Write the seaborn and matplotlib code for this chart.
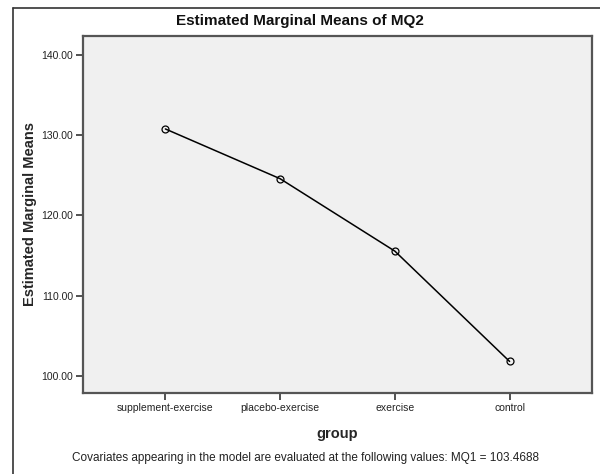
import pandas as pd
import seaborn as sns
import matplotlib.pyplot as plt
from matplotlib.lines import Line2D

groups = ['supplement-exercise', 'placebo-exercise', 'exercise', 'control']
means = [130.74, 124.55, 115.54, 101.82]
y_ticks = [100, 110, 120, 130, 140]

df = pd.DataFrame({'group': groups, 'mean': means})

sns.set_style('white')
plt.rcParams['font.family'] = ['Liberation Sans', 'DejaVu Sans']

fig = plt.figure(figsize=(6, 4.74), dpi=100)
ax = fig.add_axes([0.138, 0.171, 0.849, 0.753])
ax.set_facecolor('#f0f0f0')

sns.pointplot(data=df, x='group', y='mean', order=groups, errorbar=None,
              color='black', markers='o', markersize=5, linewidth=1.1,
              markerfacecolor='none', markeredgewidth=0.9, ax=ax)

ax.set_xlim(-0.72, 3.72)
ax.set_ylim(97.9, 142.3)
ax.set_yticks(y_ticks)
ax.set_yticklabels([f'{v:.2f}' for v in y_ticks])

for s in ax.spines.values():
    s.set_color('#555555')
    s.set_linewidth(1.6)
ax.tick_params(axis='both', direction='out', length=5, width=1.2, color='#333333',
               labelsize=7.5, labelcolor='#222222', pad=2, bottom=True, left=True)

fig.text(0.5, 1 - 21/474, 'Estimated Marginal Means of MQ2', ha='center', va='center',
         fontsize=11, fontweight='bold', color='#111111')
ax.set_xlabel('group', fontsize=10.5, fontweight='bold', labelpad=10)
ax.set_ylabel('Estimated Marginal Means', fontsize=10.5, fontweight='bold', labelpad=3)

fig.text(0.51, 1 - 458/474,
         'Covariates appearing in the model are evaluated at the following values: MQ1 = 103.4688',
         ha='center', va='center', fontsize=8.5, color='#222222')

# outer frame (left and top edges)
fig.add_artist(Line2D([13/600, 13/600], [0, 1 - 8/474], color='#333333', linewidth=1.2,
                      transform=fig.transFigure))
fig.add_artist(Line2D([13/600, 1], [1 - 8/474, 1 - 8/474], color='#333333', linewidth=1.2,
                      transform=fig.transFigure))

fig.savefig('out.png', dpi=100)
